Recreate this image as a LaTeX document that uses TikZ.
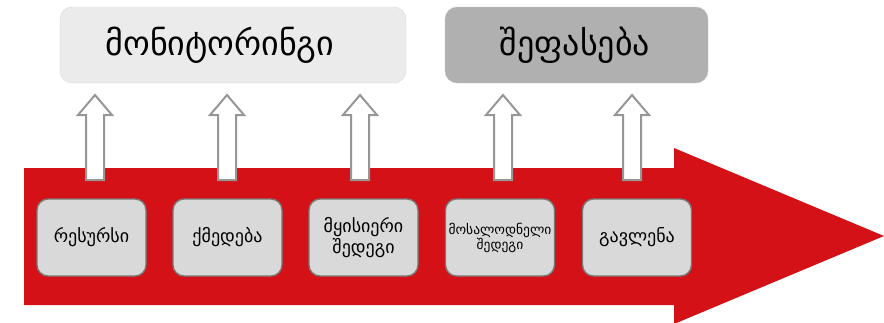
\documentclass[tikz,border=0pt]{standalone}
\usepackage{fontspec}
\setmainfont{DejaVu Sans}
\usepackage{tikz}
\usetikzlibrary{calc}

\definecolor{flowred}{RGB}{211,17,22}
\definecolor{stepgray}{RGB}{217,217,217}
\definecolor{stepedge}{RGB}{120,120,120}
\definecolor{monfill}{RGB}{235,235,235}
\definecolor{evalfill}{RGB}{176,176,176}
\definecolor{arrowedge}{RGB}{150,150,150}

\tikzset{
  topbox/.style={rounded corners=12pt, minimum height=76pt, inner sep=0pt},
  toptext/.style={font=\fontsize{34}{36}\selectfont, inner sep=0pt},
  stepbox/.style={draw=stepedge, line width=1.4pt, fill=stepgray, rounded corners=11pt,
    minimum width=109pt, minimum height=77pt, inner sep=0pt, align=center,
    font=\fontsize{18}{21}\selectfont},
  uparrow/.style={draw=arrowedge, line width=2pt, fill=white, line join=miter}
}

\begin{document}
\begin{tikzpicture}[x=1pt,y=-1pt]
				\useasboundingbox (0,0) rectangle (884,322);
				% the long red arrow
				\fill[flowred] (24,168) -- (674,168) -- (674,148) -- (884,236) -- (674,324) -- (674,305) -- (24,305) -- cycle;
				% headings
				\node[topbox, draw=black!15, fill=monfill, minimum width=346pt] (mon) at (233,45) {};
				\node[toptext] (montext) at (220,45) {მონიტორინგი};
				\node[topbox, draw=black!22, fill=evalfill, minimum width=263pt] (eval) at (576.5,45) {};
				\node[toptext] (evaltext) at (575,45) {შეფასება};
				% the five steps
				\node[stepbox] (res) at (91.5,237.5) {რესურსი};
				\node[stepbox] (act) at (227.5,237.5) {ქმედება};
				\node[stepbox] (out) at (363.5,237.5) {მყისიერი\\შედეგი};
				\node[stepbox, font=\fontsize{13.5}{15}\selectfont] (res2) at (500,237.5) {მოსალოდნელი\\შედეგი};
				\node[stepbox] (imp) at (637,237.5) {გავლენა};
				% hollow arrows up to the headings
				\foreach \ax in {95,227,360,503,632}
					\draw[uparrow] (\ax-9,180) -- (\ax-9,115) -- (\ax-17,115) -- (\ax,95) -- (\ax+17,115) -- (\ax+9,115) -- (\ax+9,180) -- cycle;
			\end{tikzpicture}
\end{document}
